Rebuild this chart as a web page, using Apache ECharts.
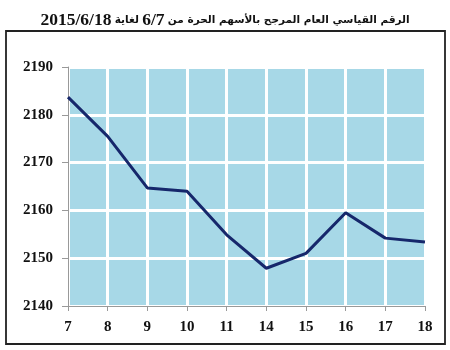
<!DOCTYPE html>
<html><head><meta charset="utf-8">
<script src="https://cdn.jsdelivr.net/npm/echarts@6/dist/echarts.min.js"></script>
<style>html,body{margin:0;padding:0;background:#fff}#c{width:450px;height:350px}</style>
</head><body><div id="c"></div>
<script>
var titleArabicMain = 'الرقم القياسي العام المرجح بالأسهم الحرة من';
var titleFrom = '6/7';
var titleArabicUntil = 'لغاية';
var titleTo = '2015/6/18';
var categories = ['7','8','9','10','11','14','15','16','17','18'];
var values = [2183.7, 2175.5, 2164.7, 2164.0, 2154.9, 2147.9, 2151.0, 2159.5, 2154.2, 2153.4];
var yMin = 2140, yMax = 2190, yStep = 10;

var chart = echarts.init(document.getElementById('c'), null, {renderer: 'canvas'});
chart.setOption({
  animation: false,
  title: {
    text: '{n|' + titleTo + '} {a|' + titleArabicUntil + '} {n|' + titleFrom + '} {a|' + titleArabicMain + '}',
    left: 'center', top: 6,
    textStyle: {
      fontSize: 12, fontWeight: 'bold', color: '#111',
      rich: {
        n: {fontFamily: '"Liberation Serif"', fontWeight: 'bold', fontSize: 17.5, color: '#111'},
        a: {fontFamily: '"DejaVu Sans"', fontWeight: 'bold', fontSize: 10.5, color: '#111'}
      }
    }
  },
  graphic: [{
    type: 'rect', shape: {x: 6, y: 31, width: 439, height: 313},
    style: {fill: 'none', stroke: '#222', lineWidth: 1.8}, z: 0
  }],
  grid: {left: 68, right: 25, top: 67, bottom: 44, show: true, backgroundColor: '#a7d8e7', borderWidth: 0},
  xAxis: {
    type: 'category', data: categories, boundaryGap: false,
    axisLine: {lineStyle: {color: '#999', width: 1}},
    axisTick: {show: true, length: 5, lineStyle: {color: '#999'}},
    axisLabel: {margin: 14, fontFamily: '"Liberation Serif"', fontWeight: 'bold', fontSize: 15, color: '#111'},
    splitLine: {show: true, lineStyle: {color: '#fff', width: 3}}
  },
  yAxis: {
    type: 'value', min: yMin, max: yMax, interval: yStep,
    axisLine: {show: true, lineStyle: {color: '#999', width: 1}},
    axisTick: {show: true, length: 6, lineStyle: {color: '#999'}},
    axisLabel: {margin: 15, fontFamily: '"Liberation Serif"', fontWeight: 'bold', fontSize: 15, color: '#111',
      formatter: function (v) { return String(v); }},
    splitLine: {show: true, lineStyle: {color: '#fff', width: 3}}
  },
  series: [{
    type: 'line', data: values, showSymbol: false, symbol: 'none',
    lineStyle: {color: '#16276b', width: 3}, z: 5
  }]
});
</script></body></html>
